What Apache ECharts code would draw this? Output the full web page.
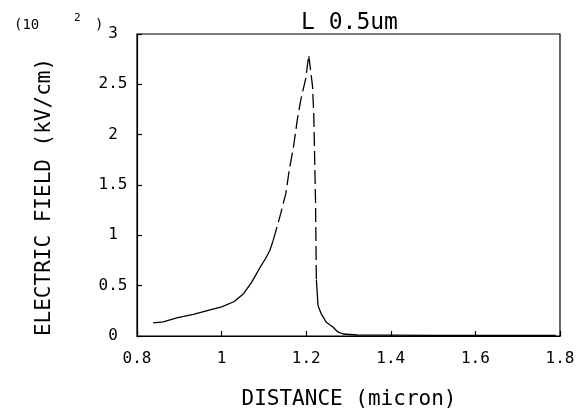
<!DOCTYPE html>
<html>
<head>
<meta charset="utf-8">
<script src="https://cdn.jsdelivr.net/npm/echarts@6/dist/echarts.min.js"></script>
<style>html,body{margin:0;padding:0;background:#fff}#c{width:582px;height:408px}</style>
</head>
<body>
<div id="c"></div>
<script>
// Data
var distance = [0.838, 0.862, 0.894, 0.933, 0.973, 1.0, 1.029, 1.052, 1.072, 1.092, 1.104, 1.114, 1.122,
  1.14, 1.152, 1.16, 1.17, 1.179, 1.187, 1.199, 1.206, 1.215, 1.218, 1.222, 1.224,
  1.228, 1.235, 1.247, 1.263, 1.275, 1.287, 1.32, 1.4, 1.5, 1.6, 1.7, 1.79];
var field = [0.13, 0.14, 0.18, 0.215, 0.26, 0.29, 0.34, 0.42, 0.54, 0.69, 0.77, 0.85, 0.95,
  1.22, 1.42, 1.65, 1.88, 2.15, 2.34, 2.56, 2.79, 2.48, 2.18, 1.35, 0.56,
  0.3, 0.225, 0.14, 0.09, 0.04, 0.02, 0.01, 0.008, 0.006, 0.005, 0.005, 0.005];
var xTicks = ['0.8', '1', '1.2', '1.4', '1.6', '1.8'];
var yTicks = ['0', '0.5', '1', '1.5', '2', '2.5', '3'];
var titleText = 'L 0.5um';
var xName = 'DISTANCE (micron)';
var yName = 'ELECTRIC FIELD (kV/cm)';

// segments: solid lower-left, dashed upper part, solid lower-right
var splitA = 12, splitB = 24;
function pairs(a, b) {
  var out = [];
  for (var i = a; i <= b; i++) out.push([distance[i], field[i]]);
  return out;
}
var mono = 'DejaVu Sans Mono';
var chart = echarts.init(document.getElementById('c'), null, {renderer: 'canvas'});
var lineBase = {type: 'line', symbol: 'none', animation: false, smooth: false};
chart.setOption({
  backgroundColor: '#fff',
  animation: false,
  grid: {left: 137, right: 22, top: 34, bottom: 72, show: true, borderColor: '#000', borderWidth: 1.2, backgroundColor: 'transparent'},
  xAxis: {
    type: 'value', min: 0.8, max: 1.8, interval: 0.2,
    axisLine: {show: true, lineStyle: {color: '#000', width: 1.2}},
    axisTick: {show: true, inside: true, length: 5, lineStyle: {color: '#000', width: 1.2}},
    splitLine: {show: false},
    axisLabel: {margin: 15, color: '#000', fontFamily: mono, fontSize: 16,
      formatter: function (v) { var i = Math.round((v - 0.8) / 0.2); return xTicks[i] || ''; }}
  },
  yAxis: {
    type: 'value', min: 0, max: 3, interval: 0.5,
    axisLine: {show: true, lineStyle: {color: '#000', width: 1.2}},
    axisTick: {show: true, inside: true, length: 5, lineStyle: {color: '#000', width: 1.2}},
    splitLine: {show: false},
    axisLabel: {margin: 24, align: 'center', color: '#000', fontFamily: mono, fontSize: 16,
      formatter: function (v) { var i = Math.round(v / 0.5); return yTicks[i] || ''; }}
  },
  graphic: [
    {type: 'text', left: 301, top: 12, style: {text: titleText, font: '23px "DejaVu Sans Mono"', fill: '#000'}},
    {type: 'text', x: 45, y: 197, rotation: Math.PI / 2,
      style: {text: yName, font: '21px "DejaVu Sans Mono"', fill: '#000', textAlign: 'center', textVerticalAlign: 'middle'}},
    {type: 'text', x: 349, y: 400,
      style: {text: xName, font: '21px "DejaVu Sans Mono"', fill: '#000', textAlign: 'center', textVerticalAlign: 'middle'}},
    {type: 'text', left: 14, top: 18, style: {text: '(10', font: '14px "DejaVu Sans Mono"', fill: '#000'}},
    {type: 'text', left: 74, top: 13, style: {text: '2', font: '11px "DejaVu Sans Mono"', fill: '#000'}},
    {type: 'text', left: 95, top: 18, style: {text: ')', font: '14px "DejaVu Sans Mono"', fill: '#000'}}
  ],
  series: [
    Object.assign({}, lineBase, {data: pairs(0, splitA), lineStyle: {color: '#000', width: 1.3}}),
    Object.assign({}, lineBase, {data: pairs(splitA, splitB), lineStyle: {color: '#000', width: 1.3, type: [14, 5]}}),
    Object.assign({}, lineBase, {data: pairs(splitB, distance.length - 1), lineStyle: {color: '#000', width: 1.3}})
  ]
});
</script>
</body>
</html>
